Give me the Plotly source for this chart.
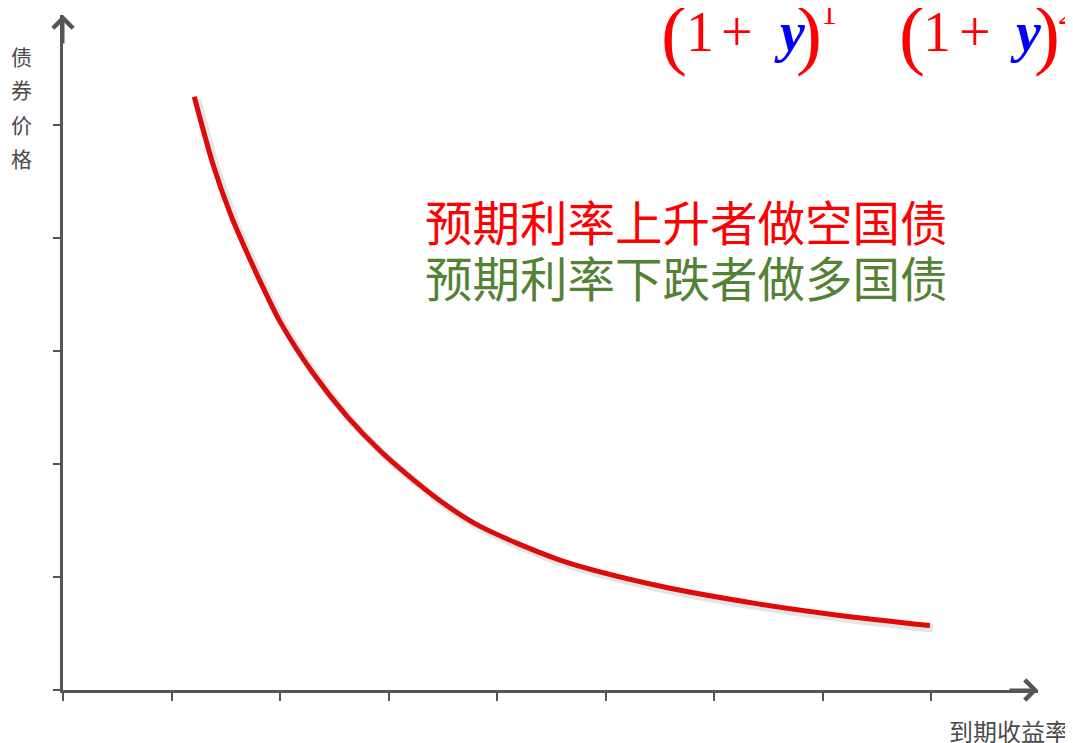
import plotly.graph_objects as go

# curva precio-rendimiento
rendimiento = [1.21, 1.38, 1.54, 1.70, 1.84, 2.00, 2.30, 2.62, 2.92, 3.23, 3.54,
               3.84, 4.58, 5.50, 6.42, 7.16, 7.99]
precio = [5.25, 4.66, 4.22, 3.86, 3.57, 3.26, 2.81, 2.42, 2.12, 1.86, 1.63,
          1.45, 1.15, 0.92, 0.76, 0.66, 0.57]
x_ticks = [0, 1, 2, 3, 4, 5, 6, 7, 8]
y_ticks = [0, 1, 2, 3, 4, 5]

titulo_y = '债券价格'
titulo_x = '到期收益率'
linea_roja = '预期利率上升者做空国债'
linea_verde = '预期利率下跌者做多国债'

W, H = 1073, 743
OFF = 8                          # margen del body de la pagina
L, R, T, B = 63, 1038, 15, 690   # borde del area de grafico en pixeles (pagina)
XS, YS = 108.5, 113.0            # pixeles por unidad

GRIS = '#555555'
ROJO = '#ff0000'
AZUL = '#0000ff'
VERDE = '#548235'
CJK = 'Noto Sans CJK SC'
SERIF = 'Liberation Serif'


def px(p):
    return (p - L) / (R - L)


def py(p):
    return (B - p) / (B - T)


xr = [0, (R - L) / XS]
yr = [0, (B - T) / YS]

fig = go.Figure()

# sombra suave de la curva (mismo dato, ejes desplazados unos pixeles)
dx, dy = 3 / XS, 3 / YS
fig.add_trace(go.Scatter(x=rendimiento, y=precio, mode='lines', xaxis='x2', yaxis='y2',
                         line=dict(color='rgba(80,80,80,0.15)', width=8, shape='spline', smoothing=0.8),
                         hoverinfo='skip', showlegend=False))
fig.add_trace(go.Scatter(x=rendimiento, y=precio, mode='lines',
                         line=dict(color='#f20000', width=5, shape='spline', smoothing=0.8),
                         showlegend=False))

ann = []
# flechas de los ejes
ann.append(dict(xref='paper', yref='paper', x=1, y=0, ax=-30, ay=0, text='',
                showarrow=True, arrowhead=4, arrowsize=1.3, arrowwidth=3, arrowcolor=GRIS))
ann.append(dict(xref='paper', yref='paper', x=0, y=1, ax=0, ay=30, text='',
                showarrow=True, arrowhead=4, arrowsize=1.3, arrowwidth=3, arrowcolor=GRIS))

# titulos de los ejes
ypos = [56, 89, 124, 158]
for ch, yy in zip(titulo_y, ypos):
    ann.append(dict(xref='paper', yref='paper', x=px(21), y=py(yy), text=ch, showarrow=False,
                    font=dict(family=CJK, size=21, color='#4a4a4a'), xanchor='center', yanchor='middle'))
ann.append(dict(xref='paper', yref='paper', x=px(1009), y=py(730), text=titulo_x, showarrow=False,
                font=dict(family=CJK, size=24, color='#4a4a4a'), xanchor='center', yanchor='middle'))

# textos centrales
ann.append(dict(xref='paper', yref='paper', x=px(423), y=py(220), text=linea_roja, showarrow=False,
                font=dict(family=CJK, size=47.5, color=ROJO), xanchor='left', yanchor='middle'))
ann.append(dict(xref='paper', yref='paper', x=px(423), y=py(276), text=linea_verde, showarrow=False,
                font=dict(family=CJK, size=47.5, color=VERDE), xanchor='left', yanchor='middle'))

# formula (recortada arriba): texto, centro x, centro y, tamano, color
formula = [
    ('(', 674, 34, 78, ROJO), ('1', 700, 32, 56, ROJO), ('+', 737, 32, 56, ROJO),
    ('<b><i>y</i></b>', 790, 32, 56, AZUL), (')', 809, 34, 78, ROJO), ('1', 829, 13, 32, ROJO),
    ('+', 870, -10, 50, ROJO),
    ('(', 912, 34, 78, ROJO), ('1', 937, 32, 56, ROJO), ('+', 975, 32, 56, ROJO),
    ('<b><i>y</i></b>', 1026, 32, 56, AZUL), (')', 1047, 34, 78, ROJO), ('2', 1066, 13, 32, ROJO),
]
for txt, xc, yc, sz, col in formula:
    ann.append(dict(xref='paper', yref='paper', x=px(xc), y=py(yc), text=txt, showarrow=False,
                    font=dict(family=SERIF, size=sz, color=col), xanchor='center', yanchor='middle'))

fig.update_layout(
    width=W, height=H,
    margin=dict(l=L - OFF, r=W - (R - OFF), t=T - OFF, b=H - (B - OFF)),
    plot_bgcolor='white', paper_bgcolor='white',
    xaxis=dict(range=xr, tickvals=x_ticks, showticklabels=False, ticks='outside', ticklen=8,
               tickwidth=2, tickcolor=GRIS, showline=True, linecolor=GRIS, linewidth=3,
               showgrid=False, zeroline=False, fixedrange=True),
    yaxis=dict(range=yr, tickvals=y_ticks, showticklabels=False, ticks='outside', ticklen=7,
               tickwidth=2, tickcolor=GRIS, showline=True, linecolor=GRIS, linewidth=3,
               showgrid=False, zeroline=False, fixedrange=True),
    xaxis2=dict(range=[xr[0] - dx, xr[1] - dx], overlaying='x', visible=False, fixedrange=True),
    yaxis2=dict(range=[yr[0] + dy, yr[1] + dy], overlaying='y', visible=False, fixedrange=True),
    annotations=ann,
    showlegend=False,
)

fig.write_html('out.html')
